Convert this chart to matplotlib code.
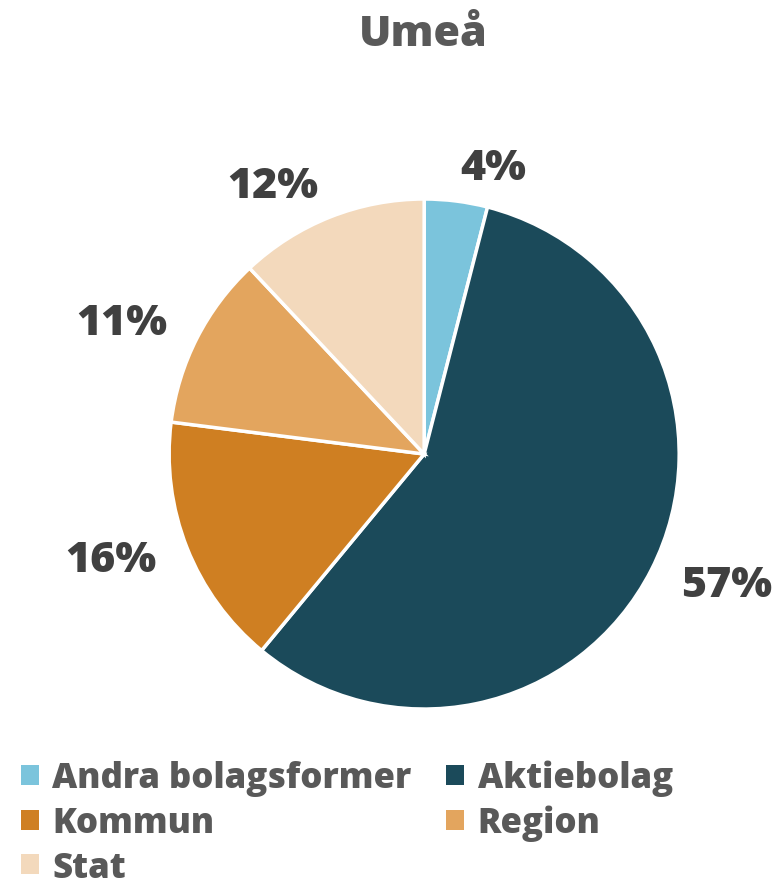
import numpy as np
import matplotlib.pyplot as plt
from matplotlib.patches import Patch

# data
kategorier = ["Andra bolagsformer", "Aktiebolag", "Kommun", "Region", "Stat"]
andelar = [4, 57, 16, 11, 12]
farger = ["#7BC4DC", "#1B4A5A", "#CF7F22", "#E3A55E", "#F3D9BC"]

plt.rcParams["font.family"] = ["Open Sans", "DejaVu Sans"]

fig = plt.figure(figsize=(7.74, 8.87), dpi=100)
ax = fig.add_axes([0.548 - 0.3295, 0.487 - 0.2875, 0.659, 0.575])

wedges, _, autotexts = ax.pie(
    andelar, colors=farger, startangle=90, counterclock=False,
    autopct=lambda p: f"{p:.0f}%", pctdistance=1.13,
    wedgeprops=dict(edgecolor="white", linewidth=2.5),
    textprops=dict(fontsize=31, fontweight="heavy", color="#404040"))

# etiketter utanfor kanten, som i Excel
for w, t in zip(wedges, autotexts):
    vinkel = np.deg2rad((w.theta1 + w.theta2) / 2)
    x, y = np.cos(vinkel), np.sin(vinkel)
    t.set_position((1.13 * x, 1.13 * y))
    t.set_ha("left" if x > 0 else "right")

ax.set_xlim(-1, 1)
ax.set_ylim(-1, 1)
ax.set_aspect("equal")

fig.text(0.547, 0.96, "Umeå", ha="center", va="center",
         fontsize=31, fontweight="heavy", color="#595959")

# radvis ordning i legenden: matplotlib fyller kolumnvis
ordning = [0, 2, 4, 1, 3]
eller = [Patch(facecolor=farger[i], label=kategorier[i]) for i in ordning]
fig.legend(handles=eller, loc="lower left", bbox_to_anchor=(-0.004, -0.027), ncol=2,
           frameon=False, prop=dict(size=25, weight="heavy"), labelcolor="#595959",
           handlelength=0.5, handleheight=0.5, handletextpad=0.4,
           columnspacing=1.0, labelspacing=0.25, borderaxespad=0.3)

fig.savefig("out.png", dpi=100)
